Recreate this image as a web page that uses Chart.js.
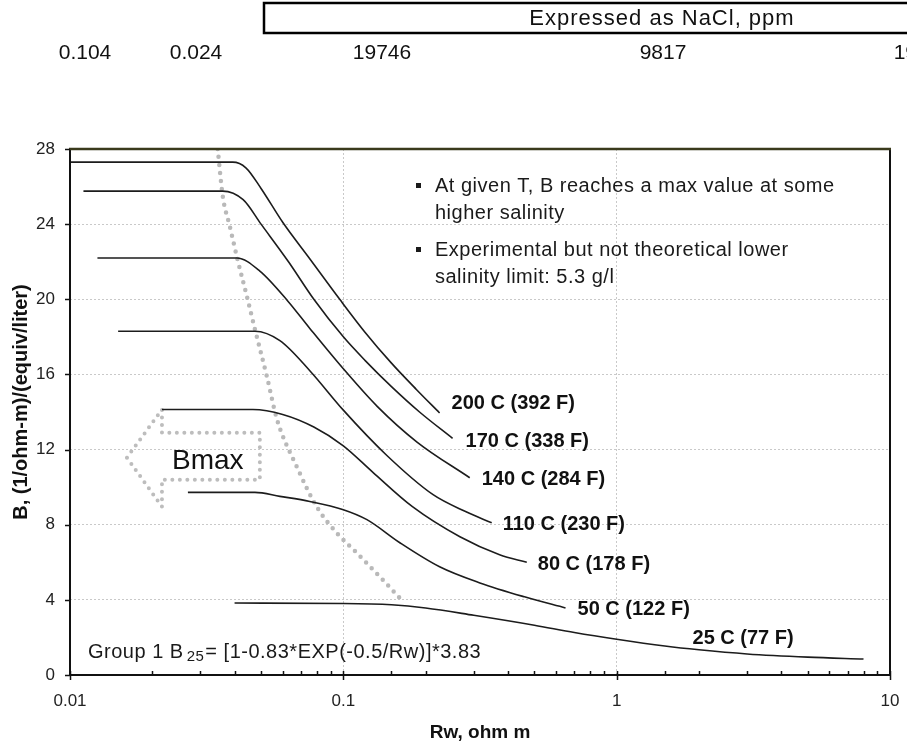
<!DOCTYPE html>
<html>
<head>
<meta charset="utf-8">
<script src="https://cdn.jsdelivr.net/npm/chart.js@4.4.1/dist/chart.umd.min.js"></script>
<style>
  html, body { margin: 0; padding: 0; background: #ffffff; }
  canvas { display: block; }
</style>
</head>
<body>
<canvas id="chart" width="907" height="750"></canvas>
<script>
// ---- Data: Rw (ohm m) and B ((1/ohm-m)/(equiv/liter)) per temperature ----
const rw200 = [0.01, 0.0394, 0.044, 0.05, 0.06, 0.075, 0.097, 0.12, 0.15, 0.185, 0.225];
const b200  = [27.3, 27.3, 27.0, 25.9, 24.1, 22.2, 20.0, 18.25, 16.6, 15.2, 13.95];

const rw170 = [0.0112, 0.0362, 0.043, 0.05, 0.063, 0.078, 0.1, 0.12, 0.15, 0.19, 0.251];
const b170  = [25.76, 25.76, 25.3, 24.0, 22.0, 20.0, 18.0, 16.75, 15.35, 14.0, 12.6];

const rw140 = [0.0126, 0.0408, 0.0495, 0.0627, 0.0754, 0.1, 0.133, 0.186, 0.29];
const b140  = [22.2, 22.2, 21.5, 19.9, 18.45, 16.3, 14.3, 12.4, 10.5];

const rw110 = [0.015, 0.0475, 0.0586, 0.0754, 0.1, 0.144, 0.213, 0.28, 0.349];
const b110  = [18.3, 18.3, 17.8, 16.2, 14.1, 11.7, 9.6, 8.7, 8.1];

const rw80 = [0.0217, 0.0467, 0.06, 0.078, 0.1, 0.128, 0.179, 0.267, 0.373, 0.469];
const b80  = [14.13, 14.13, 13.87, 13.2, 12.2, 10.8, 8.96, 7.36, 6.4, 6.0];

const rw50 = [0.027, 0.0475, 0.0586, 0.0754, 0.1, 0.122, 0.161, 0.225, 0.316, 0.46, 0.65];
const b50  = [9.72, 9.72, 9.51, 9.24, 8.8, 8.27, 7.04, 5.76, 4.9, 4.16, 3.57];

const rw25 = [0.04, 0.1, 0.15, 0.2, 0.3, 0.5, 0.7, 1, 1.5, 2, 3, 5, 8];
const b25  = [3.83, 3.81, 3.74, 3.57, 3.18, 2.65, 2.26, 1.9, 1.54, 1.34, 1.12, 0.95, 0.85];

const curveLabels = ['200 C (392 F)', '170 C (338 F)', '140 C (284 F)', '110 C (230 F)',
                     '80 C (178 F)', '50 C (122 F)', '25 C (77 F)'];

// Locus of the maximum B (onset of the plateau)
const bmaxRw = [0.0347, 0.0362, 0.0384, 0.0412, 0.0443, 0.0475, 0.0525, 0.0572, 0.0675, 0.0799, 0.0945, 0.112, 0.136, 0.167];
const bmaxB  = [28.0, 25.5, 23.9, 22.0, 20.2, 18.4, 15.9, 13.6, 11.1, 8.96, 7.57, 6.5, 5.23, 3.84];

// Outline of the "Bmax" arrow pointing toward higher salinity
const arrowRw = [0.01615, 0.0217, 0.0217, 0.0495, 0.0495, 0.0217, 0.0217, 0.01615];
const arrowB  = [11.57, 14.13, 12.9, 12.9, 10.4, 10.4, 8.96, 11.57];

// Axis ticks
const xTickValues = [0.01, 0.1, 1, 10];
const yTickValues = [0, 4, 8, 12, 16, 20, 24, 28];

// Salinity header row
const headerTitle = 'Expressed as NaCl, ppm';
const headerNumbers = ['0.104', '0.024', '19746', '9817', '1964'];

// Notes and formula
const notes = [
  ['At given T, B reaches a max value at some', 'higher salinity'],
  ['Experimental but not theoretical lower', 'salinity limit: 5.3 g/l']
];
const formulaHead = 'Group 1 B';
const formulaSub = '25';
const formulaTail = '= [1-0.83*EXP(-0.5/Rw)]*3.83';
const arrowText = 'Bmax';
const xTitle = 'Rw, ohm m';
const yTitle = 'B, (1/ohm-m)/(equiv/liter)';

// ---- Drawing ----
const FONT = "'Liberation Sans', Arial, Helvetica, sans-serif";
const pts = (xs, ys) => xs.map((x, i) => ({ x: x, y: ys[i] }));
const isDecade = v => Math.abs(Math.log10(v) - Math.round(Math.log10(v))) < 1e-6;

const curveSeries = [
  [rw200, b200], [rw170, b170], [rw140, b140], [rw110, b110],
  [rw80, b80], [rw50, b50], [rw25, b25]
];

const datasets = curveSeries.map(([xs, ys], i) => ({
  label: curveLabels[i],
  data: pts(xs, ys),
  borderColor: '#1c1c1c',
  borderWidth: 1.6,
  pointRadius: 0,
  fill: false,
  cubicInterpolationMode: 'monotone'
}));

datasets.push({
  label: 'Bmax locus',
  data: pts(bmaxRw, bmaxB),
  borderColor: '#b9b9b9',
  borderWidth: 4.5,
  borderDash: [0, 8],
  borderCapStyle: 'round',
  pointRadius: 0,
  fill: false,
  cubicInterpolationMode: 'monotone'
});

datasets.push({
  label: 'Bmax arrow',
  data: pts(arrowRw, arrowB),
  borderColor: '#bdbdbd',
  borderWidth: 4,
  borderDash: [0, 7.5],
  borderCapStyle: 'round',
  borderJoinStyle: 'round',
  pointRadius: 0,
  fill: false,
  tension: 0
});

// label offsets from the end of each curve
const labelOffsets = [[12, -9], [13, 3], [12, 2], [11, 2], [11, 2], [12, 2], [-171, -21]];

const decor = {
  id: 'decor',
  beforeDraw(chart) {
    const ctx = chart.ctx;
    ctx.save();
    ctx.fillStyle = '#ffffff';
    ctx.fillRect(0, 0, chart.width, chart.height);

    // salinity header
    ctx.strokeStyle = '#000000';
    ctx.lineWidth = 2.5;
    ctx.strokeRect(264, 3, 700, 30);
    ctx.fillStyle = '#111111';
    ctx.textAlign = 'center';
    ctx.textBaseline = 'middle';
    ctx.font = `22px ${FONT}`;
    if ('letterSpacing' in ctx) ctx.letterSpacing = '1px';
    ctx.fillText(headerTitle, 662, 19);
    if ('letterSpacing' in ctx) ctx.letterSpacing = '0px';
    ctx.font = `21px ${FONT}`;
    const hx = [85, 196, 382, 663, 917];
    headerNumbers.forEach((t, i) => ctx.fillText(t, hx[i], 53));
    ctx.restore();
  },
  afterDatasetsDraw(chart) {
    const ctx = chart.ctx;
    const a = chart.chartArea;
    const xs = chart.scales.x, ys = chart.scales.y;
    ctx.save();

    // plot frame
    ctx.lineWidth = 2;
    ctx.strokeStyle = '#111111';
    ctx.beginPath();
    ctx.moveTo(a.left, a.top); ctx.lineTo(a.left, a.bottom);
    ctx.lineTo(a.right, a.bottom); ctx.lineTo(a.right, a.top);
    ctx.stroke();
    ctx.strokeStyle = '#3a3a1c';
    ctx.lineWidth = 2.5;
    ctx.beginPath();
    ctx.moveTo(a.left - 1, a.top); ctx.lineTo(a.right + 1, a.top);
    ctx.stroke();

    // tick marks
    ctx.strokeStyle = '#111111';
    ctx.lineWidth = 1.5;
    ctx.beginPath();
    yTickValues.forEach(v => {
      const py = Math.round(ys.getPixelForValue(v)) + 0.5;
      ctx.moveTo(a.left - 5, py); ctx.lineTo(a.left, py);
    });
    xs.ticks.forEach(t => {
      const px = Math.round(xs.getPixelForValue(t.value)) + 0.5;
      if (isDecade(t.value)) { ctx.moveTo(px, a.bottom - 4); ctx.lineTo(px, a.bottom + 5); }
      else { ctx.moveTo(px, a.bottom - 4); ctx.lineTo(px, a.bottom); }
    });
    ctx.stroke();

    // curve labels
    ctx.fillStyle = '#111111';
    ctx.font = `bold 20px ${FONT}`;
    ctx.textAlign = 'left';
    ctx.textBaseline = 'middle';
    curveSeries.forEach(([rx, by], i) => {
      const n = rx.length - 1;
      const px = xs.getPixelForValue(rx[n]);
      const py = ys.getPixelForValue(by[n]);
      ctx.fillText(curveLabels[i], px + labelOffsets[i][0], py + labelOffsets[i][1]);
    });

    // notes
    ctx.font = `20px ${FONT}`;
    ctx.fillStyle = '#1a1a1a';
    if ('letterSpacing' in ctx) ctx.letterSpacing = '0.5px';
    const noteTop = [186, 250];
    notes.forEach((lines, k) => {
      ctx.fillRect(416, noteTop[k] - 3, 5, 5);
      lines.forEach((ln, j) => ctx.fillText(ln, 435, noteTop[k] + j * 27));
    });

    // formula
    ctx.fillText(formulaHead, 88, 652);
    let fx = 88 + ctx.measureText(formulaHead).width + 3;
    ctx.font = `15px ${FONT}`;
    ctx.fillText(formulaSub, fx, 657);
    fx += ctx.measureText(formulaSub).width + 1;
    ctx.font = `20px ${FONT}`;
    ctx.fillText(formulaTail, fx, 652);
    if ('letterSpacing' in ctx) ctx.letterSpacing = '0px';

    // arrow caption
    ctx.font = `28px ${FONT}`;
    ctx.fillStyle = '#111111';
    ctx.fillText(arrowText, 172, 461);

    // axis titles
    ctx.font = `bold 19px ${FONT}`;
    ctx.textAlign = 'center';
    ctx.fillText(xTitle, (a.left + a.right) / 2, 733);
    ctx.font = `bold 20px ${FONT}`;
    ctx.translate(21, 402);
    ctx.rotate(-Math.PI / 2);
    ctx.fillText(yTitle, 0, 0);
    ctx.restore();
  }
};

new Chart(document.getElementById('chart'), {
  type: 'line',
  data: { datasets: datasets },
  plugins: [decor],
  options: {
    responsive: false,
    animation: false,
    devicePixelRatio: 1,
    layout: { padding: { top: 149, right: 17, bottom: 0, left: 0 } },
    plugins: { legend: { display: false }, tooltip: { enabled: false } },
    scales: {
      x: {
        type: 'logarithmic',
        min: 0.01,
        max: 10,
        afterFit: s => { s.height = 75; s.paddingLeft = 0; s.paddingRight = 0; },
        grid: {
          drawTicks: false,
          lineWidth: 1,
          color: c => (c.tick && isDecade(c.tick.value) && c.tick.value > 0.01 && c.tick.value < 10) ? '#c9c9c9' : 'rgba(0,0,0,0)'
        },
        border: { display: false, dash: [2, 2] },
        ticks: {
          autoSkip: false,
          maxRotation: 0,
          minRotation: 0,
          padding: 16,
          color: '#222222',
          font: { family: FONT, size: 17 },
          callback: v => (xTickValues.some(t => Math.abs(t - v) / t < 1e-6) ? String(Number(v.toPrecision(6))) : '')
        }
      },
      y: {
        type: 'linear',
        min: 0,
        max: 28,
        afterFit: s => { s.width = 70; s.paddingTop = 0; s.paddingBottom = 0; },
        grid: {
          drawTicks: false,
          lineWidth: 1,
          color: c => (c.tick && c.tick.value > 0 && c.tick.value < 28) ? '#c9c9c9' : 'rgba(0,0,0,0)'
        },
        border: { display: false, dash: [2, 2] },
        ticks: {
          stepSize: 4,
          padding: 15,
          color: '#222222',
          font: { family: FONT, size: 17 }
        }
      }
    }
  }
});
</script>
</body>
</html>
